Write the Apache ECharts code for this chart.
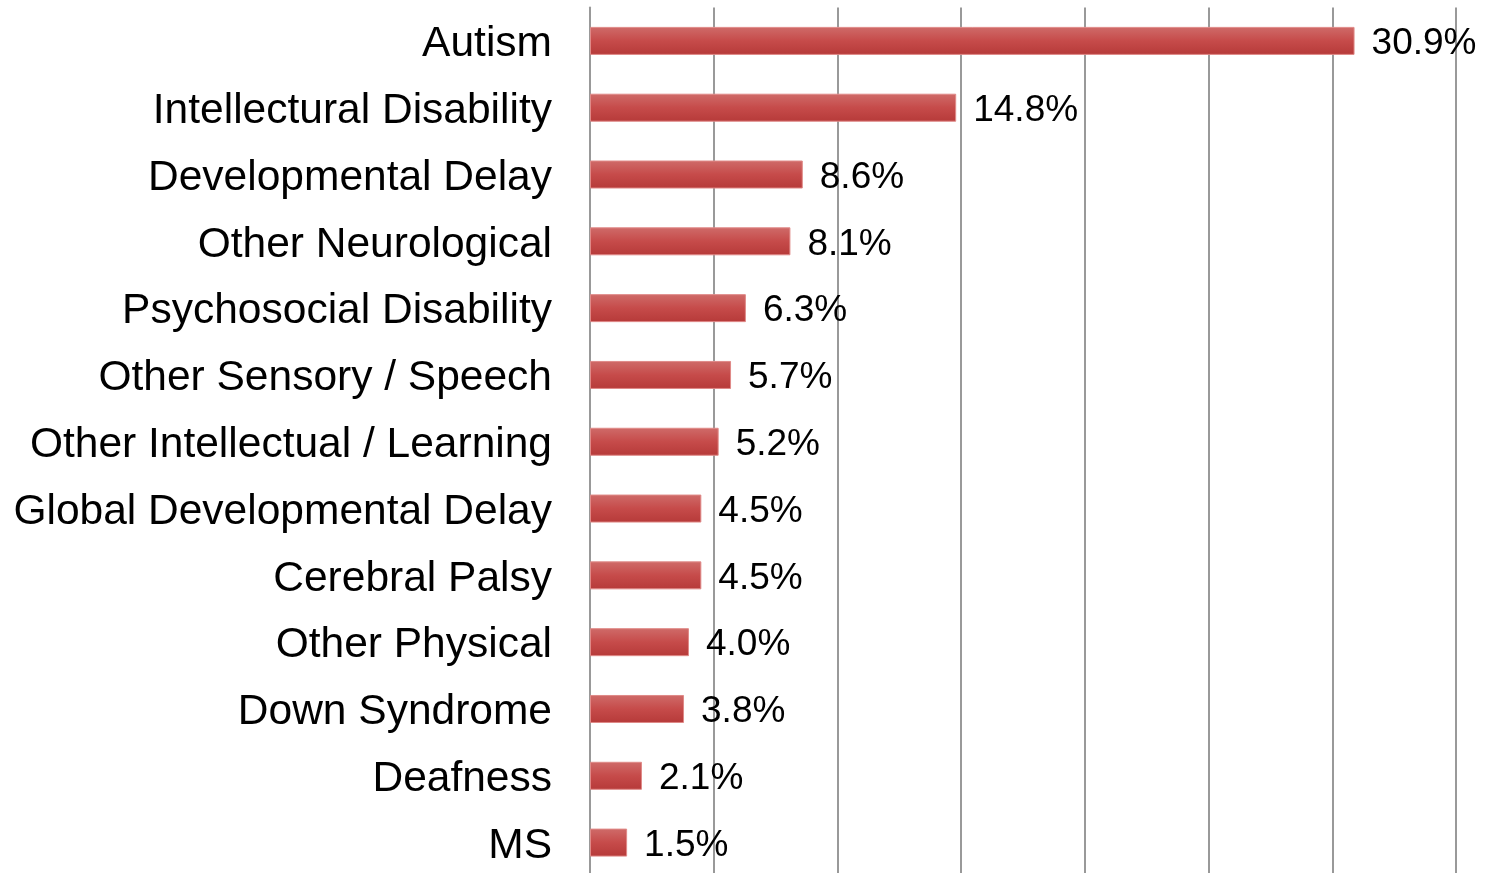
<!DOCTYPE html>
<html>
<head>
<meta charset="utf-8">
<script src="https://cdn.jsdelivr.net/npm/echarts@6/dist/echarts.min.js"></script>
<style>
  html, body { margin: 0; padding: 0; background: #fff; overflow: hidden; }
  /* slightly taller than the window: the plot runs past the bottom edge */
  #main { width: 1486px; height: 878px; }
</style>
</head>
<body>
<div id="main"></div>
<script>
const categories = [
  'Autism',
  'Intellectural Disability',
  'Developmental Delay',
  'Other Neurological',
  'Psychosocial Disability',
  'Other Sensory / Speech',
  'Other Intellectual / Learning',
  'Global Developmental Delay',
  'Cerebral Palsy',
  'Other Physical',
  'Down Syndrome',
  'Deafness',
  'MS'
];
const values = [30.9, 14.8, 8.6, 8.1, 6.3, 5.7, 5.2, 4.5, 4.5, 4.0, 3.8, 2.1, 1.5];

const FONT = '"Liberation Sans", Arial, sans-serif';

var myChart = echarts.init(document.getElementById('main'));

var option = {
  animation: false,
  textStyle: { fontFamily: FONT },
  grid: { left: 590, right: 30, top: 7.5, bottom: 2 },
  xAxis: {
    type: 'value',
    min: 0,
    max: 35,
    interval: 5,
    axisLine: { show: false },
    axisTick: { show: false },
    axisLabel: { show: false },
    splitLine: { lineStyle: { color: '#999', width: 2 } }
  },
  yAxis: {
    type: 'category',
    inverse: true,
    data: categories,
    axisLine: { lineStyle: { color: '#999', width: 2 } },
    axisTick: { length: 12, lineStyle: { color: '#999', width: 2 } },
    axisLabel: {
      margin: 38,
      formatter: function (v) { return '{t|' + v + '}'; },
      rich: {
        t: {
          fontSize: 42.5,
          color: '#000',
          fontFamily: FONT,
          padding: [7, 0, 0, 0]
        }
      }
    }
  },
  series: [
    {
      type: 'bar',
      data: values,
      barWidth: 28,
      itemStyle: {
        color: new echarts.graphic.LinearGradient(0, 0, 0, 1, [
          { offset: 0, color: '#cf6b69' },
          { offset: 0.5, color: '#c64b4a' },
          { offset: 1, color: '#b63a39' }
        ]),
        borderColor: '#e08a88',
        borderWidth: 1
      },
      label: {
        show: true,
        position: 'right',
        distance: 17,
        offset: [0, 3],
        fontSize: 37,
        color: '#000',
        fontFamily: FONT,
        formatter: function (p) { return p.value.toFixed(1) + '%'; }
      }
    }
  ]
};

myChart.setOption(option);
</script>
</body>
</html>
